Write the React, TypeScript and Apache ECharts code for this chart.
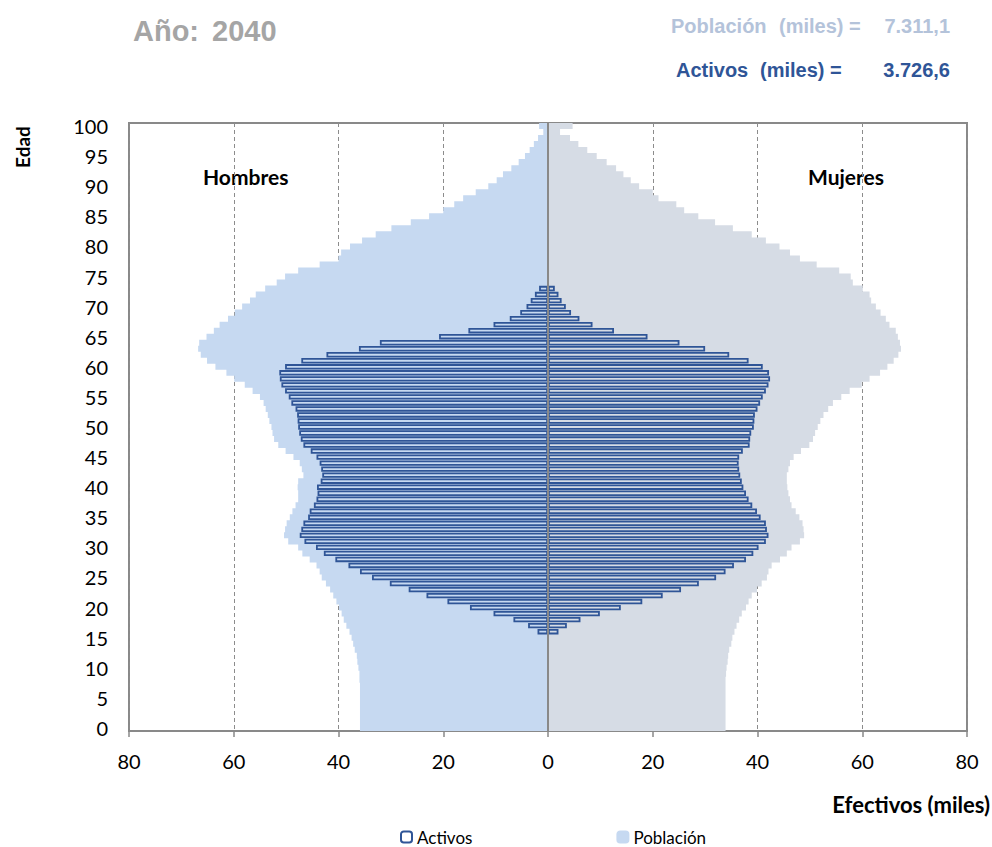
import React, { useEffect, useRef } from 'react';
import * as echarts from 'echarts';

// Ages 0..100 (category axis)
const ages: string[] = Array.from({ length: 101 }, (_, i) => String(i));
const ageTickLabels = ['0', '5', '10', '15', '20', '25', '30', '35', '40', '45', '50', '55', '60', '65', '70', '75', '80', '85', '90', '95', '100'];

// Population (thousands), men, ages 0..100
const malePop: number[] = [
  35.9, 35.9, 35.9, 35.9, 35.9, 35.9, 35.9, 35.9, 36.0, 36.0,
  36.2, 36.4, 36.5, 36.9, 37.2, 37.5, 37.9, 38.5, 39.0, 39.4,
  39.9, 40.4, 41.0, 41.6, 42.4, 43.2, 43.6, 44.2, 45.5, 46.9,
  47.7, 49.6, 50.4, 50.2, 49.9, 49.3, 48.8, 48.2, 47.7, 47.7,
  47.8, 47.7, 46.7, 47.0, 47.4, 48.6, 50.1, 51.5, 52.3, 52.6,
  52.8, 53.2, 53.5, 53.9, 54.3, 55.0, 56.4, 57.9, 59.9, 61.4,
  63.5, 65.1, 66.3, 66.8, 66.6, 65.2, 63.8, 62.7, 61.1, 59.8,
  58.4, 56.9, 55.8, 54.0, 51.8, 50.2, 47.7, 43.6, 40.0, 39.5,
  37.8, 35.5, 32.9, 29.9, 26.2, 22.7, 20.0, 17.9, 16.2, 13.8,
  11.4, 9.8, 8.6, 7.0, 5.6, 4.4, 3.5, 2.7, 1.9, 0.9,
  1.7,
];

// Population (thousands), women, ages 0..100
const femalePop: number[] = [
  33.9, 33.9, 33.9, 33.9, 33.9, 33.9, 33.9, 33.9, 33.9, 34.0,
  34.1, 34.3, 34.4, 34.6, 35.0, 35.2, 35.6, 36.0, 36.5, 37.0,
  37.8, 38.3, 38.9, 39.9, 40.8, 41.8, 42.1, 42.7, 44.3, 45.6,
  46.5, 48.1, 48.9, 48.8, 48.6, 48.0, 47.3, 46.5, 46.2, 45.9,
  45.7, 45.6, 45.6, 45.9, 46.2, 46.9, 48.3, 49.9, 50.6, 51.0,
  51.5, 52.0, 52.6, 53.5, 54.4, 56.0, 57.6, 59.9, 61.4, 63.4,
  64.8, 66.0, 66.9, 67.4, 67.2, 66.8, 66.4, 65.2, 64.5, 63.5,
  62.6, 61.7, 61.4, 60.1, 58.2, 57.8, 55.6, 51.3, 48.1, 46.2,
  44.2, 41.6, 38.9, 35.3, 31.9, 28.7, 26.0, 24.5, 21.1, 20.0,
  17.4, 15.8, 14.4, 13.0, 11.2, 9.3, 7.5, 5.8, 4.2, 2.3,
  4.7,
];

// Active population (thousands), from age 16 to age 73
const activeFirstAge = 16;
const maleActive: number[] = [
  2.0, 3.8, 6.6, 10.4, 14.9,
  19.2, 23.2, 26.6, 30.2, 33.6,
  35.9, 38.1, 40.6, 42.8, 44.3,
  46.5, 47.4, 47.1, 46.7, 45.8,
  45.5, 44.7, 44.2, 44.0, 44.1,
  43.4, 43.1, 43.3, 43.6, 44.2,
  45.3, 46.7, 47.2, 47.5, 47.7,
  47.8, 47.9, 48.2, 49.0, 49.5,
  50.2, 50.9, 51.2, 51.3, 50.2,
  47.1, 42.3, 36.1, 32.1, 20.8,
  15.2, 10.4, 7.3, 5.3, 4.1,
  3.3, 2.5, 1.7,
];
const femaleActive: number[] = [
  2.0, 3.6, 6.2, 9.9, 13.9,
  18.0, 21.9, 25.4, 28.8, 32.1,
  33.9, 35.5, 37.8, 39.2, 40.2,
  41.6, 42.1, 41.8, 41.6, 40.6,
  39.9, 39.0, 38.3, 37.8, 37.3,
  37.0, 36.7, 36.5, 36.4, 36.5,
  37.2, 38.5, 38.6, 38.8, 39.3,
  39.4, 39.5, 40.0, 40.5, 41.0,
  41.6, 42.1, 42.4, 42.2, 41.0,
  38.3, 34.6, 30.0, 25.1, 19.0,
  12.6, 8.5, 6.0, 4.4, 3.4,
  2.6, 2.0, 1.3,
];

const xTicks = { min: -80, max: 80, interval: 20 };

const COLORS = {
  malePop: '#C6D9F1',
  femalePop: '#D6DCE5',
  active: '#2F5597',
  axis: '#898989',
  grid: '#8C8C8C',
};

function activeSeriesData(values: number[], sign: number): (number | null)[] {
  return ages.map((_, i) => {
    const k = i - activeFirstAge;
    return k >= 0 && k < values.length ? sign * values[k] : null;
  });
}

export default function App() {
  const ref = useRef<HTMLDivElement>(null);

  useEffect(() => {
    if (!ref.current) return;
    const chart = echarts.init(ref.current, null, { renderer: 'svg' });
    const labelFont = 'Lato';
    const topFont = '"Liberation Sans", Arial, sans-serif';

    const option: any = {
      animation: false,
      backgroundColor: '#ffffff',
      grid: {
        left: 129,
        right: 25,
        top: 123,
        bottom: 116,
        show: true,
        borderColor: COLORS.axis,
        borderWidth: 2,
        backgroundColor: 'transparent',
      },
      legend: {
        data: ['Activos', 'Población'],
        left: 395,
        top: 823,
        itemWidth: 11,
        itemHeight: 11,
        itemGap: 144,
        textStyle: { fontFamily: labelFont, fontSize: 17, lineHeight: 18, color: '#000' },
      },
      xAxis: {
        type: 'value',
        min: xTicks.min,
        max: xTicks.max,
        interval: xTicks.interval,
        axisLine: { show: true, onZero: false, lineStyle: { color: COLORS.axis, width: 2 } },
        axisTick: { show: true, length: 6, lineStyle: { color: COLORS.axis, width: 1.5 } },
        axisLabel: {
          formatter: (v: number) => String(Math.abs(v)),
          fontFamily: labelFont,
          fontSize: 20,
          color: '#000',
          margin: 20,
        },
        splitLine: { show: true, lineStyle: { color: COLORS.grid, type: [4, 3], width: 1 } },
      },
      yAxis: [
        {
          type: 'category',
          data: ages,
          axisLine: { show: false },
          axisTick: { show: false },
          splitLine: { show: false },
          axisLabel: {
            interval: 4,
            fontFamily: labelFont,
            fontSize: 20,
            color: '#000',
            margin: 21,
            formatter: (v: string) => (ageTickLabels.includes(v) ? v : ''),
          },
        },
        {
          type: 'category',
          data: ages,
          position: 'left',
          show: false,
        },
      ],
      series: [
        {
          name: 'Población',
          type: 'bar',
          yAxisIndex: 0,
          stack: 'pop',
          barCategoryGap: '0%',
          large: true,
          largeThreshold: 10,
          data: malePop.map((v) => -v),
          itemStyle: { color: COLORS.malePop, borderColor: COLORS.malePop, borderWidth: 1 },
          silent: true,
          z: 2,
        },
        {
          name: 'Población',
          type: 'bar',
          yAxisIndex: 0,
          stack: 'pop',
          barCategoryGap: '0%',
          large: true,
          largeThreshold: 10,
          data: femalePop,
          itemStyle: { color: COLORS.femalePop, borderColor: COLORS.femalePop, borderWidth: 1 },
          silent: true,
          z: 2,
        },
        {
          name: 'Activos',
          type: 'bar',
          yAxisIndex: 1,
          stack: 'act',
          barCategoryGap: '10%',
          data: activeSeriesData(maleActive, -1),
          itemStyle: { color: 'rgba(255,255,255,0)', borderColor: COLORS.active, borderWidth: 1.8 },
          silent: true,
          z: 3,
        },
        {
          name: 'Activos',
          type: 'bar',
          yAxisIndex: 1,
          stack: 'act',
          barCategoryGap: '10%',
          data: activeSeriesData(femaleActive, 1),
          itemStyle: { color: 'rgba(255,255,255,0)', borderColor: COLORS.active, borderWidth: 1.8 },
          silent: true,
          z: 3,
          markLine: {
            silent: true,
            symbol: 'none',
            z: 6,
            label: { show: false },
            lineStyle: { color: COLORS.axis, width: 2, type: 'solid' },
            emphasis: { disabled: true },
            data: [{ xAxis: 0 }],
          },
        },
      ],
      graphic: [
        { type: 'text', x: 133, y: 31, style: { text: 'Año:', fill: '#A5A5A5', font: `bold 29px ${topFont}`, textAlign: 'left', textVerticalAlign: 'middle' } },
        { type: 'text', x: 212, y: 31, style: { text: '2040', fill: '#A5A5A5', font: `bold 29px ${topFont}`, textAlign: 'left', textVerticalAlign: 'middle' } },
        { type: 'text', x: 671, y: 26, style: { text: 'Población', fill: '#B4C3DA', font: `bold 20px ${topFont}`, textAlign: 'left', textVerticalAlign: 'middle' } },
        { type: 'text', x: 779, y: 26, style: { text: '(miles) =', fill: '#B4C3DA', font: `bold 20px ${topFont}`, textAlign: 'left', textVerticalAlign: 'middle' } },
        { type: 'text', x: 950, y: 26, style: { text: '7.311,1', fill: '#B4C3DA', font: `bold 20px ${topFont}`, textAlign: 'right', textVerticalAlign: 'middle' } },
        { type: 'text', x: 676, y: 70, style: { text: 'Activos', fill: COLORS.active, font: `bold 20px ${topFont}`, textAlign: 'left', textVerticalAlign: 'middle' } },
        { type: 'text', x: 760, y: 70, style: { text: '(miles) =', fill: COLORS.active, font: `bold 20px ${topFont}`, textAlign: 'left', textVerticalAlign: 'middle' } },
        { type: 'text', x: 950, y: 70, style: { text: '3.726,6', fill: COLORS.active, font: `bold 20px ${topFont}`, textAlign: 'right', textVerticalAlign: 'middle' } },
        { type: 'text', x: 22, y: 147, rotation: Math.PI / 2, style: { text: 'Edad', fill: '#000', font: `bold 19px ${labelFont}`, textAlign: 'center', textVerticalAlign: 'middle' } },
        { type: 'text', x: 203, y: 176, style: { text: 'Hombres', fill: '#000', font: `bold 21px ${labelFont}`, textAlign: 'left', textVerticalAlign: 'middle' } },
        { type: 'text', x: 808, y: 176, style: { text: 'Mujeres', fill: '#000', font: `bold 21px ${labelFont}`, textAlign: 'left', textVerticalAlign: 'middle' } },
        { type: 'text', x: 990, y: 804, style: { text: 'Efectivos (miles)', fill: '#000', font: `bold 22px ${labelFont}`, textAlign: 'right', textVerticalAlign: 'middle' } },
      ],
    };

    chart.setOption(option);
    return () => chart.dispose();
  }, []);

  return (
    <div
      ref={ref}
      style={{ position: 'absolute', left: 0, top: 0, width: 992, height: 847 }}
    />
  );
}
